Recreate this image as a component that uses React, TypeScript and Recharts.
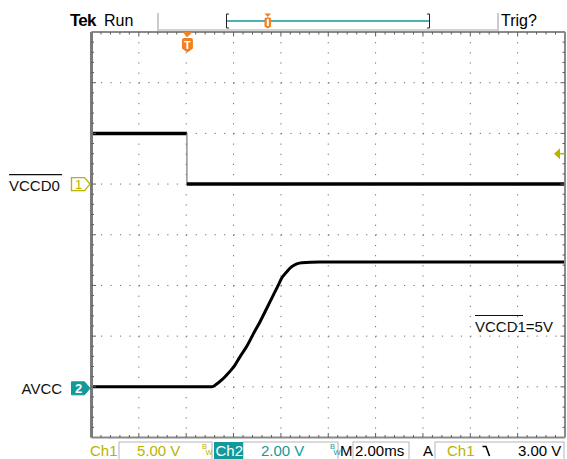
import React from 'react';
import { LineChart, Line, XAxis, YAxis, CartesianGrid, ReferenceDot, ReferenceLine } from 'recharts';

// Time axis: 2.00 ms/div, 10 divisions
const timeTicks = [0, 2, 4, 6, 8, 10, 12, 14, 16, 18, 20];
// Vertical divisions (8)
const divTicks = [0, 1, 2, 3, 4, 5, 6, 7, 8];

// Ch1 (VCCD0), 5.00 V/div, trigger falling edge at ~4.03 ms
const ch1High = [{ t: 0, v: 5.0 }, { t: 4.03, v: 5.0 }];
const ch1Edge = [{ t: 4.03, v: 5.0 }, { t: 4.03, v: 0 }];
const ch1Low = [{ t: 4.03, v: 0 }, { t: 20, v: 0 }];

// Ch2 (AVCC), 2.00 V/div
const ch2Times = [0, 5.08, 5.29, 5.5, 5.71, 5.92, 6.06, 6.27, 6.56, 6.83, 7.12, 7.4, 7.68, 7.89, 8.03, 8.25, 8.46, 8.67, 8.88, 9.65, 20];
const ch2Volts = [0, 0, 0.11, 0.27, 0.47, 0.69, 0.86, 1.18, 1.6, 2.08, 2.57, 3.09, 3.62, 4.01, 4.28, 4.54, 4.74, 4.85, 4.9, 4.92, 4.92];
const ch2Data = ch2Times.map((t, i) => ({ t, v: ch2Volts[i] }));

const YEL = '#b9b300';
const TEAL = '#12999a';
const ORANGE = '#f47f20';
const FRAME = '#8a8a8a';
const FONT = '"Liberation Sans", Arial, sans-serif';

// Graticule border drawn along a reference line, with 5 minor ticks per division
const frameLine = (side: 'top' | 'bottom' | 'left' | 'right', divs: number, width: number, color: string) => (p: any) => {
  const { x1, y1, x2, y2 } = p;
  const n = divs * 5;
  const ticks = [];
  for (let k = 1; k < n; k++) {
    const fx = x1 + ((x2 - x1) * k) / n;
    const fy = y1 + ((y2 - y1) * k) / n;
    const len = k % 5 === 0 ? 4.5 : 2.5;
    let ex = fx, ey = fy;
    if (side === 'top') ey = fy + len;
    if (side === 'bottom') ey = fy - len;
    if (side === 'left') ex = fx + len;
    if (side === 'right') ex = fx - len;
    ticks.push(<line key={k} x1={fx} y1={fy} x2={ex} y2={ey} stroke="#5e5e5e" strokeWidth={1} />);
  }
  return (
    <g>
      <line x1={x1} y1={y1} x2={x2} y2={y2} stroke={color} strokeWidth={width} />
      {ticks}
    </g>
  );
};

const ch1Marker = (p: any) => {
  const cx = p.cx, cy = p.cy;
  return (
    <g>
      <path d={`M${cx - 20} ${cy - 6.5} H${cx - 7} L${cx - 1.5} ${cy} L${cx - 7} ${cy + 6.5} H${cx - 20} Z`} fill="#fff" stroke={YEL} strokeWidth={1.3} />
      <text x={cx - 13} y={cy + 5} textAnchor="middle" fontSize={13} fontFamily={FONT} fill={YEL}>1</text>
      <text x={9} y={cy + 6.5} fontSize={15} fontFamily={FONT} fill="#111">VCCD0</text>
      <line x1={9} x2={62} y1={cy - 9.5} y2={cy - 9.5} stroke="#111" strokeWidth={1.2} />
    </g>
  );
};

const ch2Marker = (p: any) => {
  const cx = p.cx, cy = p.cy + 1.5;
  return (
    <g>
      <path d={`M${cx - 20} ${cy - 6.5} H${cx - 7} L${cx - 1.5} ${cy} L${cx - 7} ${cy + 6.5} H${cx - 20} Z`} fill={TEAL} stroke={TEAL} strokeWidth={1} />
      <text x={cx - 13} y={cy + 5} textAnchor="middle" fontSize={13} fontWeight="bold" fontFamily={FONT} fill="#fff">2</text>
      <text x={21.5} y={cy + 5.5} fontSize={15} fontFamily={FONT} fill="#111">AVCC</text>
    </g>
  );
};

const trigPosMarker = (p: any) => {
  const cx = p.cx + 0.5, cy = p.cy;
  return (
    <g>
      <path d={`M${cx - 5} ${cy} H${cx + 5} L${cx} ${cy + 5} Z`} fill={ORANGE} />
      <path d={`M${cx - 5.5} ${cy + 8} q0 -2 2 -2 h7 q2 0 2 2 v8.5 l-5.5 4 l-5.5 -4 Z`} fill={ORANGE} />
      <text x={cx} y={cy + 17} textAnchor="middle" fontSize={11} fontWeight="bold" fontFamily={FONT} fill="#fff">T</text>
    </g>
  );
};

const trigLevelMarker = (p: any) => {
  const cx = p.cx, cy = p.cy;
  return (
    <g>
      <path d={`M${cx - 11} ${cy} L${cx - 5} ${cy - 5.5} L${cx - 5} ${cy + 5.5} Z`} fill={YEL} />
      <line x1={cx - 5} x2={cx} y1={cy} y2={cy} stroke={YEL} strokeWidth={1.5} />
    </g>
  );
};

const Header = () => (
  <g fontFamily={FONT}>
    <text x={70} y={26} fontSize={17} fontWeight="bold" letterSpacing={-0.8} fill="#000">Tek</text>
    <text x={104} y={26} fontSize={16} fill="#000">Run</text>
    <line x1={158} x2={158} y1={13} y2={31} stroke="#999" strokeWidth={1} />
    <line x1={498} x2={498} y1={13} y2={31} stroke="#999" strokeWidth={1} />
    <line x1={158} x2={498} y1={30} y2={30} stroke="#c4c4c4" strokeWidth={1.5} />
    <line x1={227} x2={429} y1={21} y2={21} stroke={TEAL} strokeWidth={1.5} />
    <path d="M229 14 H226.5 V28 H229" fill="none" stroke="#222" strokeWidth={1} />
    <path d="M427 14 H429.5 V28 H427" fill="none" stroke="#222" strokeWidth={1} />
    <path d="M264.5 13.5 H271 L267.75 17 Z" fill={ORANGE} />
    <path d="M264.5 19 q0 -1.5 1.5 -1.5 h3.5 q1.5 0 1.5 1.5 v7.5 l-3.25 2 l-3.25 -2 Z" fill={ORANGE} />
    <rect x={266.8} y={19} width={2} height={7} fill="#fff" />
    <text x={501} y={26} fontSize={16} fill="#000">Trig?</text>
  </g>
);

const BW = ({ x, color }: { x: number; color: string }) => (
  <g fontFamily={FONT} fontSize={7.5} fill={color}>
    <text x={x} y={449}>B</text>
    <text x={x + 3.5} y={455}>W</text>
  </g>
);

const StatusBar = () => (
  <g fontFamily={FONT} fontSize={15}>
    <rect x={119} y={442} width={93} height={20} fill="none" stroke="#b5b5b5" />
    <rect x={243} y={442} width={95} height={20} fill="none" stroke="#b5b5b5" />
    <rect x={353} y={442} width={56} height={20} fill="none" stroke="#b5b5b5" />
    <rect x={435} y={442} width={129} height={20} fill="none" stroke="#b5b5b5" />
    <rect x={214} y={442} width={29} height={17} fill={TEAL} />
    <text x={90} y={456} fill={YEL}>Ch1</text>
    <text x={137} y={456} fill={YEL}>5.00 V</text>
    <BW x={202} color={YEL} />
    <text x={215.5} y={456} fill="#fff">Ch2</text>
    <text x={261} y={456} fill={TEAL}>2.00 V</text>
    <BW x={330} color={TEAL} />
    <text x={340} y={456} fill="#000">M</text>
    <text x={355} y={456} fill="#000">2.00ms</text>
    <text x={423} y={456} fill="#000">A</text>
    <text x={447} y={456} fill={YEL}>Ch1</text>
    <path d="M482.5 446.5 H486 L489.5 456" fill="none" stroke="#000" strokeWidth={1.6} />
    <text x={518} y={456} fill="#000">3.00 V</text>
  </g>
);

export default function App() {
  return (
    <div style={{ position: 'absolute', left: 0, top: 0, width: 567, height: 459, background: '#fff', overflow: 'hidden' }}>
      <LineChart width={567} height={459} margin={{ top: 32, left: 91.5, right: 2, bottom: 21.5 }}>
        <XAxis xAxisId="t" type="number" dataKey="t" domain={[0, 20]} ticks={timeTicks} allowDataOverflow hide />
        <YAxis yAxisId="ch1" type="number" domain={[-25, 15]} allowDataOverflow hide />
        <YAxis yAxisId="ch2" type="number" domain={[-2, 14]} allowDataOverflow hide />
        <YAxis yAxisId="grid" type="number" domain={[0, 8]} ticks={divTicks} allowDataOverflow hide />

        <CartesianGrid xAxisId="t" yAxisId="grid" vertical={false} stroke="#6a6a6a" strokeWidth={1} strokeDasharray="1.2 8.27" />
        <CartesianGrid xAxisId="t" yAxisId="grid" horizontal={false} stroke="#6a6a6a" strokeWidth={1} strokeDasharray="1.2 8.94" />

        <Line xAxisId="t" yAxisId="ch1" data={ch1High} dataKey="v" type="linear" stroke="#000" strokeWidth={3.5} dot={false} isAnimationActive={false} />
        <Line xAxisId="t" yAxisId="ch1" data={ch1Edge} dataKey="v" type="linear" stroke="#777" strokeWidth={1.2} dot={false} isAnimationActive={false} />
        <Line xAxisId="t" yAxisId="ch1" data={ch1Low} dataKey="v" type="linear" stroke="#000" strokeWidth={3.5} dot={false} isAnimationActive={false} />
        <Line xAxisId="t" yAxisId="ch2" data={ch2Data} dataKey="v" type="monotone" stroke="#000" strokeWidth={3} dot={false} isAnimationActive={false} />

        <ReferenceLine xAxisId="t" yAxisId="grid" y={8} ifOverflow="visible" shape={frameLine('top', 10, 2, FRAME)} />
        <ReferenceLine xAxisId="t" yAxisId="grid" y={0} ifOverflow="visible" shape={frameLine('bottom', 10, 2, FRAME)} />
        <ReferenceLine xAxisId="t" yAxisId="grid" x={20} ifOverflow="visible" shape={frameLine('right', 8, 2, FRAME)} />
        <ReferenceLine xAxisId="t" yAxisId="grid" x={0} ifOverflow="visible" shape={frameLine('left', 8, 3, '#7a7a7a')} />

        <ReferenceDot xAxisId="t" yAxisId="ch1" x={0} y={0} ifOverflow="visible" shape={ch1Marker} />
        <ReferenceDot xAxisId="t" yAxisId="ch2" x={0} y={0} ifOverflow="visible" shape={ch2Marker} />
        <ReferenceDot xAxisId="t" yAxisId="ch1" x={4.03} y={15} ifOverflow="visible" shape={trigPosMarker} />
        <ReferenceDot xAxisId="t" yAxisId="ch1" x={20} y={3} ifOverflow="visible" shape={trigLevelMarker} />
      </LineChart>
      <svg width={567} height={459} style={{ position: 'absolute', left: 0, top: 0, pointerEvents: 'none' }}>
        <Header />
        <g fontFamily={FONT}>
          <text x={475} y={331.5} fontSize={15} fill="#111">VCCD1=5V</text>
          <line x1={475} x2={523} y1={315.5} y2={315.5} stroke="#111" strokeWidth={1.2} />
        </g>
        <StatusBar />
      </svg>
    </div>
  );
}
